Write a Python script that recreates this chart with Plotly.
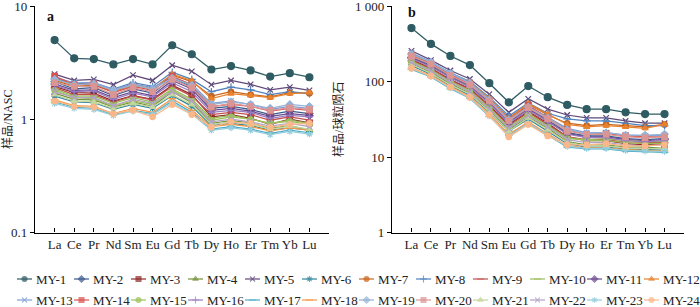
import plotly.graph_objects as go

ELEMENTS = ["La", "Ce", "Pr", "Nd", "Sm", "Eu", "Gd", "Tb", "Dy", "Ho", "Er", "Tm", "Yb", "Lu"]
SAMPLES = ["MY-%d" % i for i in range(1, 25)]

# Sample / NASC (panel a)
NASC = {
    "MY-1": [5.0, 3.45, 3.4, 3.05, 3.4, 3.05, 4.5, 3.75, 2.75, 2.95, 2.7, 2.38, 2.55, 2.35],
    "MY-2": [2.15, 1.85, 1.9, 1.62, 1.85, 1.7, 2.3, 1.95, 1.25, 1.3, 1.22, 1.1, 1.18, 1.12],
    "MY-3": [1.95, 1.72, 1.7, 1.45, 1.62, 1.5, 2.0, 1.65, 1.05, 1.1, 1.02, 0.9, 1.0, 0.93],
    "MY-4": [1.7, 1.5, 1.48, 1.28, 1.42, 1.3, 1.75, 1.4, 0.92, 0.97, 0.93, 0.83, 0.88, 0.8],
    "MY-5": [2.5, 2.2, 2.25, 2.02, 2.45, 2.2, 3.0, 2.65, 2.02, 2.2, 2.03, 1.82, 1.92, 1.8],
    "MY-6": [1.6, 1.42, 1.4, 1.22, 1.35, 1.25, 1.62, 1.3, 0.88, 0.92, 0.88, 0.8, 0.84, 0.8],
    "MY-7": [2.2, 1.95, 2.0, 1.75, 2.0, 1.85, 2.45, 2.15, 1.6, 1.75, 1.65, 1.58, 1.72, 1.7],
    "MY-8": [2.3, 2.05, 2.1, 1.85, 2.1, 1.95, 2.6, 2.25, 1.75, 1.92, 1.82, 1.65, 1.75, 1.68],
    "MY-9": [1.9, 1.65, 1.65, 1.42, 1.6, 1.48, 1.95, 1.6, 1.1, 1.15, 1.1, 0.98, 1.05, 0.98],
    "MY-10": [1.85, 1.6, 1.6, 1.38, 1.55, 1.42, 1.85, 1.5, 1.02, 1.08, 1.0, 0.92, 0.98, 0.92],
    "MY-11": [2.05, 1.8, 1.82, 1.55, 1.75, 1.62, 2.2, 1.85, 1.2, 1.25, 1.18, 1.06, 1.12, 1.08],
    "MY-12": [2.25, 2.0, 2.05, 1.78, 2.02, 1.85, 2.5, 2.2, 1.52, 1.68, 1.62, 1.55, 1.68, 1.72],
    "MY-13": [2.35, 2.1, 2.12, 1.82, 2.05, 1.9, 2.35, 2.05, 1.38, 1.45, 1.35, 1.22, 1.3, 1.25],
    "MY-14": [2.4, 2.02, 2.05, 1.72, 1.95, 1.8, 2.4, 2.0, 1.3, 1.35, 1.3, 1.18, 1.25, 1.2],
    "MY-15": [1.8, 1.55, 1.52, 1.3, 1.45, 1.35, 1.8, 1.45, 0.98, 1.05, 1.0, 0.92, 0.96, 0.9],
    "MY-16": [2.0, 1.75, 1.78, 1.5, 1.7, 1.58, 2.1, 1.75, 1.15, 1.2, 1.15, 1.02, 1.08, 1.05],
    "MY-17": [1.42, 1.28, 1.25, 1.1, 1.2, 1.12, 1.45, 1.15, 0.82, 0.86, 0.82, 0.75, 0.8, 0.76],
    "MY-18": [1.48, 1.32, 1.3, 1.12, 1.25, 1.15, 1.52, 1.2, 0.86, 0.9, 0.86, 0.79, 0.84, 0.8],
    "MY-19": [2.25, 2.02, 2.05, 1.8, 2.0, 1.85, 2.3, 2.0, 1.35, 1.42, 1.35, 1.25, 1.35, 1.3],
    "MY-20": [2.1, 1.95, 1.95, 1.65, 1.9, 1.75, 2.25, 1.9, 1.28, 1.38, 1.3, 1.2, 1.26, 1.22],
    "MY-21": [1.65, 1.45, 1.42, 1.25, 1.38, 1.28, 1.65, 1.35, 0.9, 0.95, 0.9, 0.82, 0.87, 0.82],
    "MY-22": [1.75, 1.55, 1.55, 1.32, 1.5, 1.38, 1.75, 1.45, 0.95, 1.0, 0.95, 0.87, 0.92, 0.86],
    "MY-23": [1.38, 1.25, 1.22, 1.08, 1.18, 1.1, 1.4, 1.12, 0.8, 0.84, 0.8, 0.73, 0.78, 0.74],
    "MY-24": [1.45, 1.3, 1.28, 1.12, 1.2, 1.05, 1.35, 1.1, 0.85, 0.95, 0.92, 0.85, 0.9, 0.92],
}

# Sample / chondrite (panel b)
CHONDRITE = {
    "MY-1": [510, 315, 218, 165, 95, 53, 87, 62, 49, 43, 43, 39, 37, 37],
    "MY-2": [210, 165, 118, 88, 53, 29, 44, 31, 21, 19, 19, 17.5, 17, 17.5],
    "MY-3": [195, 150, 106, 80, 48, 27, 40, 28, 18.5, 16.5, 16.5, 15, 14.5, 14.8],
    "MY-4": [172, 132, 93, 70, 41, 23, 34, 24, 16, 14.5, 14.5, 13.5, 13.5, 13],
    "MY-5": [255, 192, 140, 108, 68, 39, 59, 43, 36, 33, 33, 30, 28, 28],
    "MY-6": [162, 125, 88, 66, 39, 22, 32, 22, 15, 13.5, 13.5, 12.8, 12.5, 12.3],
    "MY-7": [225, 175, 125, 97, 58, 33, 50, 36, 28, 26, 27, 26, 25, 27],
    "MY-8": [235, 180, 130, 100, 62, 35, 52, 38, 32, 30, 30, 28, 26, 26],
    "MY-9": [190, 147, 104, 78, 47, 26, 39, 27, 18.5, 17, 17, 15.8, 15.5, 15.5],
    "MY-10": [185, 142, 100, 76, 45, 25, 37, 26, 18, 16.5, 16.5, 15.5, 15, 15],
    "MY-11": [205, 160, 114, 86, 52, 28, 43, 30, 20.5, 18.5, 18.5, 17, 16.5, 17],
    "MY-12": [230, 178, 128, 98, 60, 32, 51, 37, 27, 25, 26, 25, 24, 27],
    "MY-13": [240, 182, 130, 98, 58, 31, 47, 34, 24, 21, 21, 19.5, 19, 19.5],
    "MY-14": [220, 172, 122, 93, 56, 31, 48, 33, 23, 20, 20.5, 19, 18.5, 18.5],
    "MY-15": [183, 140, 98, 74, 44, 24, 36, 25, 17.5, 17, 17.5, 16.5, 16, 16],
    "MY-16": [200, 157, 112, 84, 51, 28, 42, 29.5, 20, 18, 18, 16.5, 16, 16.5],
    "MY-17": [145, 115, 80, 60, 34.5, 19.5, 28, 19.5, 13.5, 12.8, 12.8, 12, 11.8, 11.5],
    "MY-18": [152, 120, 85, 63, 37, 20, 29, 20.5, 14.2, 13.2, 13.2, 12.5, 12.2, 12],
    "MY-19": [228, 180, 128, 95, 57, 31, 46, 33, 23, 20.5, 21, 19.5, 19.5, 20],
    "MY-20": [215, 170, 120, 90, 55, 30, 45, 32, 22, 20, 20, 18.5, 18, 18.5],
    "MY-21": [168, 128, 90, 68, 40, 22, 33, 23, 15.5, 14, 14, 13.2, 13, 12.8],
    "MY-22": [178, 137, 97, 73, 43, 24, 35, 25, 17, 15.5, 15.5, 14.5, 14, 14.5],
    "MY-23": [148, 117, 82, 61, 35, 19, 28, 19.5, 13.8, 13, 13, 12.2, 12, 11.8],
    "MY-24": [150, 118, 84, 62, 36, 18.5, 27, 19, 14.5, 14.5, 15, 14, 14, 14.5],
}

COLORS = ["#2F5C63", "#3A5A8C", "#8E2A26", "#76923C", "#5F497A", "#31859C",
          "#C8641C", "#4F81BD", "#C0504D", "#9BBB59", "#6B4C8F", "#E8822E",
          "#7F9FD3", "#D9534F", "#9CC15A", "#9A7BC0", "#4BACC6", "#F79646",
          "#95B3D7", "#D99694", "#C3D69B", "#B3A2C7", "#93CDDD", "#FAB88A"]
SYMBOLS = ["circle", "diamond", "square", "triangle-up", "x-thin", "asterisk",
           "circle", "cross-thin", "line-ew", "line-ew", "diamond", "triangle-up",
           "x-thin", "square", "circle", "cross-thin", "line-ew", "line-ew",
           "diamond", "square", "triangle-up", "x-thin", "asterisk", "circle"]

FONT = "Liberation Serif, Times New Roman, serif"
CJK = "Liberation Serif, Noto Sans CJK SC, sans-serif"
W, H = 700, 307

xs = list(range(len(ELEMENTS)))
fig = go.Figure()

def add_series(data, xa, ya):
    for i, name in enumerate(SAMPLES):
        size = 7 if i == 0 else 5.5
        fig.add_trace(go.Scatter(
            x=xs, y=data[name], mode="lines+markers", name=name, showlegend=False,
            xaxis=xa, yaxis=ya,
            line=dict(color=COLORS[i], width=1.25),
            marker=dict(symbol=SYMBOLS[i], size=size, color=COLORS[i],
                        line=dict(color=COLORS[i], width=1.2)),
        ))

add_series(NASC, "x", "y")
add_series(CHONDRITE, "x2", "y2")

# manual legend drawn in a pixel-based helper axis (bottom strip)
LEG_TOP = 264
for i, name in enumerate(SAMPLES):
    row, col = divmod(i, 12)
    x0 = 17 + 57 * col
    yy = 279 + 21 * row - LEG_TOP
    fig.add_trace(go.Scatter(
        x=[x0, x0 + 7.5, x0 + 15], y=[yy, yy, yy], mode="lines+markers",
        xaxis="x3", yaxis="y3", showlegend=False, hoverinfo="skip",
        line=dict(color=COLORS[i], width=1.2),
        marker=dict(symbol=SYMBOLS[i], size=[0, 5, 0], color=COLORS[i],
                    line=dict(color=COLORS[i], width=1.1)),
    ))
    fig.add_annotation(x=x0 + 17, y=yy, xref="x3", yref="y3", text=name,
                       showarrow=False, xanchor="left", yanchor="middle",
                       font=dict(family=FONT, size=13, color="#222"))

top_dom = 1 - 6 / H
bot_dom = 1 - 232.5 / H

xcommon = dict(range=[-1, 14], tickvals=list(range(len(ELEMENTS) + 1)),
               ticktext=ELEMENTS + [""], ticks="inside", ticklen=4, tickwidth=1.2,
               tickcolor="black", showline=True, linecolor="black", linewidth=1.2,
               showgrid=False, zeroline=False, ticklabeloverflow="allow", automargin=False,
               tickfont=dict(family=FONT, size=13, color="#222"))
ycommon = dict(type="log", ticks="outside", ticklen=4, tickwidth=1.2, tickcolor="black",
               showline=True, linecolor="black", linewidth=1.2, showgrid=False,
               zeroline=False, domain=[bot_dom, top_dom], ticklabeloverflow="allow",
               automargin=False,
               tickfont=dict(family=FONT, size=13, color="#222"))

fig.update_layout(
    width=W, height=H, autosize=False,
    margin=dict(l=0, r=0, t=0, b=0, pad=0, autoexpand=False),
    paper_bgcolor="white", plot_bgcolor="white",
    font=dict(family=FONT, color="#222"),
    xaxis=dict(domain=[35 / W, 329 / W], anchor="y", **xcommon),
    xaxis2=dict(domain=[392 / W, 684 / W], anchor="y2", **xcommon),
    yaxis=dict(range=[-1, 1], anchor="x", tickvals=[0.1, 1, 10], ticktext=["0.1", "1", "10"],
               title=dict(text="样品/NASC", font=dict(family=CJK, size=12, color="#222"), standoff=8),
               **ycommon),
    yaxis2=dict(range=[0, 3], anchor="x2", tickvals=[1, 10, 100, 1000],
                ticktext=["1", "10", "100", "1 000"],
                title=dict(text="样品/球粒陨石", font=dict(family=CJK, size=12, color="#222"), standoff=8),
                **ycommon),
    xaxis3=dict(domain=[0, 1], range=[0, W], visible=False, anchor="y3", automargin=False),
    yaxis3=dict(domain=[0, (H - LEG_TOP) / H], range=[H - LEG_TOP, 0], visible=False,
                anchor="x3", automargin=False),
)

fig.add_annotation(x=0.054, y=0.955, xref="x domain", yref="y domain", text="<b>a</b>",
                   xanchor="center", yanchor="middle",
                   showarrow=False, font=dict(family=FONT, size=14, color="#111"))
fig.add_annotation(x=0.068, y=0.972, xref="x2 domain", yref="y2 domain", text="<b>b</b>",
                   xanchor="center", yanchor="middle",
                   showarrow=False, font=dict(family=FONT, size=14, color="#111"))

fig.write_html("out.html", config={"displayModeBar": False, "responsive": False})

# remove the default page margin so the 700x307 figure fills the window exactly
with open("out.html", "r", encoding="utf-8") as f:
    html = f.read()
html = html.replace("<head>", "<head><style>html,body{margin:0;padding:0;overflow:hidden;}</style>", 1)
with open("out.html", "w", encoding="utf-8") as f:
    f.write(html)
